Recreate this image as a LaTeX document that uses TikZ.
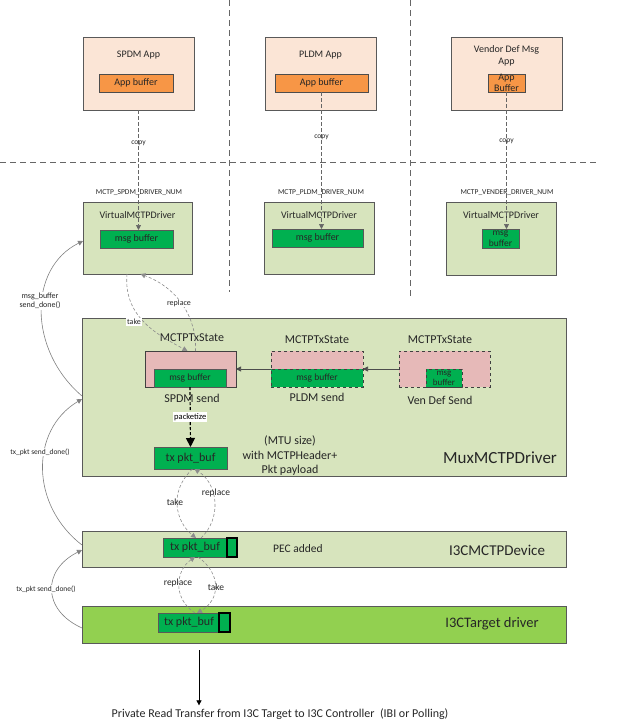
\documentclass[tikz,border=0pt]{standalone}
\usepackage{fontspec}
\setmainfont{Carlito}
\usepackage{xcolor}
\usetikzlibrary{arrows.meta}
\definecolor{apppeach}{HTML}{FBE5D6}
\definecolor{apporange}{HTML}{F79646}
\definecolor{drvgreen}{HTML}{D7E4BD}
\definecolor{bufgreen}{HTML}{00B050}
\definecolor{statepink}{HTML}{E6B9B8}
\definecolor{tgtgreen}{HTML}{92D050}
\definecolor{edgegray}{HTML}{595959}
\definecolor{linegray}{HTML}{808080}
\definecolor{inkgray}{HTML}{262626}

\begin{document}
\begin{tikzpicture}[x=1pt,y=-1pt,
  blk/.style={draw=edgegray,line width=0.8pt,anchor=north west,inner sep=0,outer sep=0,text=inkgray},
  appbox/.style={blk,fill=apppeach},
  appbuf/.style={blk,fill=apporange,draw=black!70,font=\fontsize{10}{12}\selectfont},
  drvbox/.style={blk,fill=drvgreen},
  msgbuf/.style={blk,fill=bufgreen,draw=black!65,font=\fontsize{10}{12}\selectfont},
  statebox/.style={blk,fill=statepink,draw=black!75},
  tgtbox/.style={blk,fill=tgtgreen},
  pecbox/.style={blk,fill=bufgreen,draw=black,line width=1.2pt},
  ftiny/.style={font=\fontsize{7.5}{9}\selectfont,inner sep=1pt,text=inkgray},
  flab/.style={font=\fontsize{8}{9.5}\selectfont,inner sep=1pt,text=inkgray},
  ftxt/.style={font=\fontsize{10}{12}\selectfont,inner sep=0,text=inkgray},
  fmid/.style={font=\fontsize{12}{14.5}\selectfont,inner sep=0,text=inkgray},
  divider/.style={draw=black!60,line width=0.9pt,dash pattern=on 6pt off 4pt},
  copyline/.style={draw=black!60,line width=0.7pt,dash pattern=on 4pt off 2pt,-{Triangle[length=5pt,width=5pt]}},
  swap/.style={draw=black!45,line width=0.6pt,dash pattern=on 3pt off 2pt,-{Triangle[length=5pt,width=5pt]}},
  done/.style={draw=black!50,line width=0.6pt,-{Triangle[length=5pt,width=5pt]}},
  feed/.style={draw=black!65,line width=1.2pt,-{Triangle[length=6pt,width=6pt]}}
]
\useasboundingbox (0,0) rectangle (619,728);

\draw[divider] (229,0) -- (229,292);
\draw[divider] (410,0) -- (410,298);
\draw[divider] (0,162) -- (598,162);

\node[appbox,minimum width=111,minimum height=73] (spdmapp) at (83,37) {};
\node[ftxt] (spdmapptitle) at (138.5,55) {SPDM App};
\node[appbuf,minimum width=74,minimum height=18] (spdmappbuf) at (99,74) {App buffer};
\node[appbox,minimum width=111,minimum height=73] (pldmapp) at (265,37) {};
\node[ftxt] (pldmapptitle) at (320.5,55) {PLDM App};
\node[appbuf,minimum width=93,minimum height=18] (pldmappbuf) at (275,74) {App buffer};
\node[appbox,minimum width=111,minimum height=73] (vendapp) at (451,37) {};
\node[ftxt,align=center] (vendapptitle) at (506.5,56) {Vendor Def Msg\\App};
\node[appbuf,minimum width=37,minimum height=18] (vendappbuf) at (488,74) {};
\node[ftxt,align=center,font=\fontsize{10}{11.5}\selectfont] (vendappbuftxt) at (vendappbuf) {App\\Buffer};

\node[drvbox,minimum width=109,minimum height=72] (spdmvmd) at (83,202) {};
\node[ftxt] (spdmvmdtitle) at (137.5,215) {VirtualMCTPDriver};
\node[msgbuf,minimum width=73,minimum height=18] (spdmmsg) at (100,230) {msg buffer};
\node[drvbox,minimum width=110,minimum height=72] (pldmvmd) at (264,202) {};
\node[ftxt] (pldmvmdtitle) at (319,215) {VirtualMCTPDriver};
\node[msgbuf,minimum width=91,minimum height=18] (pldmmsg) at (272,229) {msg buffer};
\node[drvbox,minimum width=110,minimum height=73] (vendvmd) at (446,202) {};
\node[ftxt] (vendvmdtitle) at (501,215) {VirtualMCTPDriver};
\node[msgbuf,minimum width=37,minimum height=19] (vendmsg) at (482,229) {};
\node[ftxt,align=center,font=\fontsize{9.5}{10.5}\selectfont] (vendmsgtxt) at (vendmsg) {msg\\buffer};

\node[ftiny] (spdmnum) at (139,193) {MCTP\_SPDM\_DRIVER\_NUM};
\node[ftiny] (pldmnum) at (321,193) {MCTP\_PLDM\_DRIVER\_NUM};
\node[ftiny] (vendnum) at (507,193) {MCTP\_VENDER\_DRIVER\_NUM};

\draw[copyline] (spdmapp.south) -- (spdmapp.south |- spdmmsg.north) node[ftiny,pos=0.275] (spdmcopy) {copy};
\draw[copyline] (pldmappbuf.south) -- (pldmappbuf.south |- pldmmsg.north) node[ftiny,pos=0.33] (pldmcopy) {copy};
\draw[copyline] (vendappbuf.south) -- (vendappbuf.south |- vendmsg.north) node[ftiny,pos=0.36] (vendcopy) {copy};

\node[drvbox,minimum width=484,minimum height=158] (mux) at (82,318) {};
\node[ftxt,font=\fontsize{17}{20}\selectfont] (muxtitle) at (500,458) {MuxMCTPDriver};

\node[statebox,minimum width=91,minimum height=36] (spdmstate) at (145,351) {};
\node[msgbuf,minimum width=72,minimum height=18,font=\fontsize{9.5}{11}\selectfont] (spdmsmsg) at (154,369) {msg buffer};
\node[fmid] (spdmstatetitle) at (192,338) {MCTPTxState};
\node[fmid] (spdmsend) at (192,398) {SPDM send};

\node[statebox,dashed,minimum width=92,minimum height=36] (pldmstate) at (271,351) {};
\node[msgbuf,dashed,draw=black!75,minimum width=92,minimum height=18,font=\fontsize{9.5}{11}\selectfont] (pldmsmsg) at (271,369) {msg buffer};
\node[fmid] (pldmstatetitle) at (317,340) {MCTPTxState};
\node[fmid] (pldmsend) at (317,397) {PLDM send};

\node[statebox,dashed,minimum width=91,minimum height=36] (vendstate) at (399,351) {};
\node[msgbuf,dashed,draw=black!75,minimum width=36,minimum height=18] (vendsmsg) at (426,369) {};
\node[ftxt,align=center,font=\fontsize{9}{10}\selectfont] (vendsmsgtxt) at (vendsmsg) {msg\\buffer};
\node[fmid] (vendstatetitle) at (440,340) {MCTPTxState};
\node[fmid] (vendsend) at (440,400) {Ven Def Send};

\draw[done,draw=black!70] (vendstate.west) -- (pldmstate.east);
\draw[done,draw=black!70] (pldmstate.west) -- (spdmstate.east);

\node[msgbuf,minimum width=73,minimum height=22,font=\fontsize{12}{14}\selectfont] (muxbuf) at (154,447) {tx pkt\_buf};
\draw[feed,draw=black,dash pattern=on 3pt off 2pt,-{Triangle[length=9pt,width=9pt]}] (spdmsmsg.south) -- (muxbuf.north) node[midway,fill=white,inner sep=1pt,font=\fontsize{8.5}{10}\selectfont] (pkttxt) {packetize};
\node[fmid,align=center] (mtutxt) at (290,456) {(MTU size)\\with MCTPHeader+\\Pkt payload};

\node[drvbox,minimum width=484,minimum height=36] (dev) at (82,531) {};
\node[ftxt,font=\fontsize{15}{18}\selectfont] (devtitle) at (497,550) {I3CMCTPDevice};
\node[ftxt,font=\fontsize{11.5}{13}\selectfont] (pectxt) at (298,549) {PEC added};
\node[msgbuf,minimum width=74,minimum height=19] (devbuf) at (163,538) {};
\node[pecbox,minimum width=10,minimum height=19] (devpec) at (227,538) {};
\node[ftxt,font=\fontsize{12}{14}\selectfont] (devbuftxt) at (195,547.5) {tx pkt\_buf};

\node[tgtbox,minimum width=484,minimum height=37] (tgt) at (82,606) {};
\node[ftxt,font=\fontsize{14.5}{17}\selectfont] (tgttitle) at (492,624) {I3CTarget driver};
\node[msgbuf,minimum width=72,minimum height=19] (tgtbuf) at (158,613) {};
\node[pecbox,minimum width=11,minimum height=19] (tgtpec) at (219,613) {};
\node[ftxt,font=\fontsize{12}{14}\selectfont] (tgtbuftxt) at (189,622.5) {tx pkt\_buf};

\draw[swap] ([xshift=-10.5pt]spdmvmd.south) .. controls (123,318) and (160,336) .. ([xshift=-3pt]spdmstate.north);
\draw[swap] ([xshift=5pt]spdmstate.north) .. controls (197,318) and (178,288) .. ([xshift=3pt]spdmvmd.south);
\node[flab,fill=white] (toptake) at (134,322) {take};
\node[flab,fill=white] (topreplace) at (179,303) {replace};

\draw[swap] ([xshift=2pt]muxbuf.south) .. controls (168,492) and (176,522) .. ([xshift=-4pt]devbuf.north);
\draw[swap] ([xshift=1pt]devbuf.north) .. controls (222,518) and (218,484) .. ([xshift=4pt]muxbuf.south);
\node[flab,font=\fontsize{9.5}{11}\selectfont] (midtake) at (175,502) {take};
\node[flab,font=\fontsize{9.5}{11}\selectfont] (midreplace) at (216,493) {replace};

\draw[swap] ([xshift=1pt]tgtbuf.north) .. controls (172,598) and (176,570) .. ([xshift=-5pt]devbuf.south);
\draw[swap] ([xshift=-2pt]devbuf.south) .. controls (222,574) and (220,600) .. ([xshift=3pt]tgtbuf.north);
\node[flab,font=\fontsize{9.5}{11}\selectfont] (lowreplace) at (178,583) {replace};
\node[flab,font=\fontsize{9.5}{11}\selectfont] (lowtake) at (216,587) {take};

\draw[done] ([yshift=-3.5pt]tgt.west) .. controls (42,610) and (42,570) .. ([yshift=-1pt]dev.west);
\draw[done] ([yshift=4pt]dev.west) .. controls (30,505) and (30,430) .. ([yshift=-2pt]mux.west);
\draw[done] ([yshift=1pt]mux.west) .. controls (28,350) and (28,268) .. ([yshift=-3pt]spdmvmd.west);
\node[ftiny,fill=white,align=center] (lowdone) at (46,589) {tx\_pkt send\_done()};
\node[ftiny,fill=white,align=center] (middone) at (40,452) {tx\_pkt send\_done()};
\node[ftiny,fill=white,align=center,font=\fontsize{8}{9.5}\selectfont] (topdone) at (40,301) {msg\_buffer\\send\_done()};

\coordinate (xferstart) at (199,650);
\node[ftxt,font=\fontsize{12}{14}\selectfont] (xfer) at (280,714) {Private Read Transfer from I3C Target to I3C Controller\ \ (IBI or Polling)};
\draw[done,draw=black,line width=0.7pt] (xferstart) -- ([yshift=3pt]xferstart |- xfer.north);
\end{tikzpicture}
\end{document}
